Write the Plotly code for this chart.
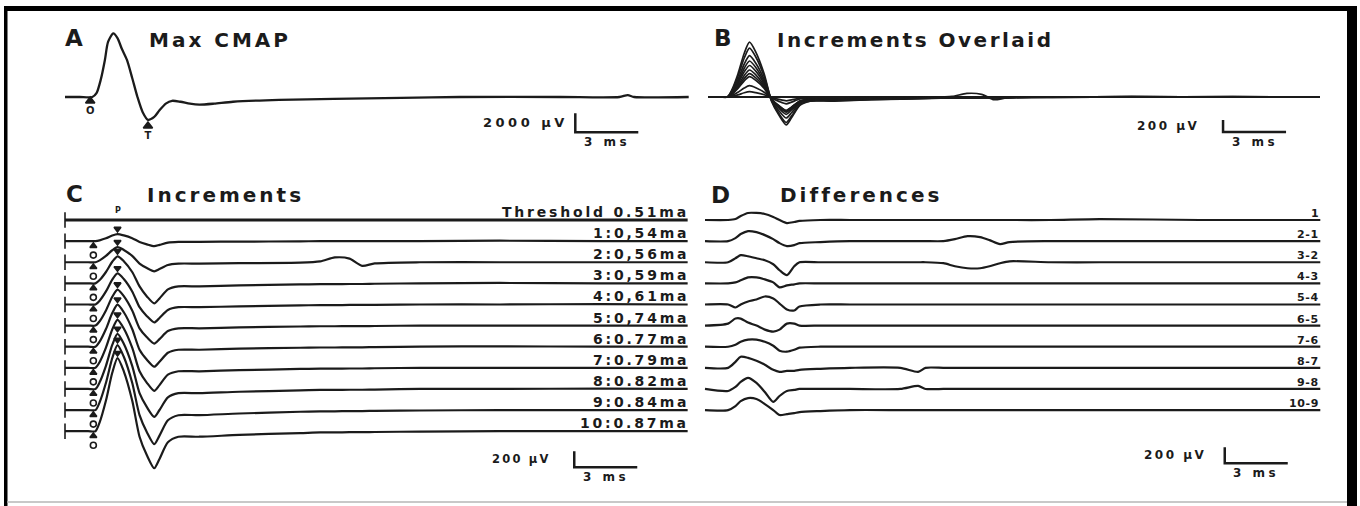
import plotly.graph_objects as go

W, H = 1360, 506
INK = "#1b1b1b"
FONT = "DejaVu Sans"

# ---------------- DATA ----------------
# Panel A - maximal CMAP: time (ms) / amplitude (µV)
A_T = [0, 0.7, 1.3, 1.5, 1.7, 1.9, 2.05, 2.3, 2.5, 2.7, 2.95, 3.2, 3.45, 3.7, 3.95,
       4.25, 4.5, 4.8, 5.1, 5.5, 5.95, 6.4, 7.1, 8.0, 10.2, 12.8, 16.0, 18.8, 23.6,
       26.4, 26.8, 27.1, 29.7]
A_V = [0, 0, 0, 400, 1800, 3900, 5800, 6700, 6200, 5100, 3900, 2000, 0, -1600, -2400,
       -2100, -1400, -700, -400, -500, -700, -800, -700, -500, -300, -200, -100, 0, 0,
       0, 200, 0, 0]
A_ONSET_T = 1.2
A_TROUGH_T = 3.95

# Panels B / C - increments: time (ms) / amplitude (µV)
THRESH_T = [0, 29.65]
THRESH_V = [0, 0]
C_T = [0, 1.1, 1.45, 1.65, 1.95, 2.25, 2.5, 2.8, 3.2, 3.55, 3.9, 4.25, 4.5, 4.9, 5.4,
       6.4, 8.3, 11.2, 12.15, 12.85, 13.55, 14.15, 14.75, 16.9, 20.7, 25.5, 29.65]
INC1 = [0, 0, 0, 10, 35, 70, 88, 72, 37, -10, -40, -63, -47, -19, -9, -9, -6, -3, 0, 0, 0, 0, 0, 0, 5, 0, 0]
INC2 = [0, 0, 0, 23, 79, 150, 188, 154, 79, -17, -73, -113, -85, -34, -17, -17, -11, -6, 10, 60, 45, -45, -15, 0, 0, 0, 0]
INC3 = [0, 0, 0, 41, 142, 270, 338, 277, 142, -38, -163, -250, -188, -75, -38, -38, -25, -13, -10, -10, -8, -8, -5, 0, 5, 0, 0]
INC4 = [0, 0, 0, 47, 163, 310, 388, 318, 163, -34, -146, -225, -169, -68, -34, -34, -23, -11, -8, -8, -6, -6, -5, 0, 0, 5, 0]
INC5 = [0, 0, 0, 54, 189, 360, 450, 369, 189, -34, -146, -225, -169, -68, -34, -34, -23, -11, -8, -8, -6, -6, -5, 0, 0, 0, 0]
INC6 = [0, 0, 0, 63, 221, 420, 525, 431, 221, -38, -163, -250, -188, -75, -38, -38, -25, -13, -10, -10, -8, -8, -5, 0, 5, 0, 0]
INC7 = [0, 0, 0, 72, 252, 480, 600, 492, 252, -43, -187, -288, -216, -86, -43, -43, -29, -14, -10, -10, -8, -8, -5, 0, 0, 0, 0]
INC8 = [0, 0, 0, 83, 289, 550, 688, 564, 289, -53, -228, -350, -263, -105, -53, -53, -35, -18, -12, -12, -10, -10, -8, 0, 0, 5, 0]
INC9 = [0, 0, 0, 98, 341, 650, 813, 667, 341, -64, -276, -425, -319, -128, -64, -64, -43, -21, -15, -15, -12, -12, -10, -5, 0, 0, 0]
INC10 = [0, 0, 0, 110, 383, 730, 913, 749, 383, -69, -301, -463, -347, -139, -69, -69, -46, -23, -15, -15, -12, -12, -10, -5, 0, 0, 0]
C_LABELS = ["Threshold 0.51ma", "1:0,54ma", "2:0,56ma", "3:0,59ma", "4:0,61ma", "5:0,74ma",
            "6:0.77ma", "7:0.79ma", "8:0.82ma", "9:0.84ma", "10:0.87ma"]
C_ONSET_T = 1.35
C_PEAK_T = 2.5

# Panel D - differences: time (ms) / amplitude (µV)
D_T = [0, 1.1, 1.45, 1.7, 2.05, 2.45, 2.85, 3.25, 3.55, 3.9, 4.25, 4.5, 5.5, 6.9, 9.3,
       10.15, 10.5, 11.35, 11.9, 12.5, 13.1, 13.55, 14.05, 14.5, 16.45, 18.8, 23.55, 29.3]
DIF1 = [0, 0, 12, 50, 88, 88, 75, 38, 0, -38, -25, -12, 0, 0, 0, 0, 0, 0, 0, 0, 0, 0, 0, 0, 0, 12, 0, 0]
DIF2 = [0, 0, 38, 88, 125, 112, 75, 25, -25, -62, -50, -25, -12, 0, 0, 0, 0, 0, 25, 62, 50, 12, -38, -12, 0, 0, 0, 0]
DIF3 = [0, 0, 50, 88, 75, 50, 25, -25, -100, -162, -50, 0, 0, 0, 0, 0, 0, -12, -50, -75, -75, -50, -12, 12, 0, 0, 0, 0]
DIF4 = [0, 0, 12, 38, 75, 75, 50, 12, -50, -25, -12, 0, 0, 0, 0, 0, 0, 0, 0, 0, 0, 0, 0, 0, 0, 0, 0, 0]
DIF5 = [0, 0, -38, 0, 38, 62, 100, 75, 12, -62, -75, -25, 0, 0, 0, 0, 0, 0, 0, 0, 0, 0, 0, 0, 0, 0, 0, 0]
DIF6 = [0, 25, 88, 88, 38, 0, -50, -75, -50, 25, 25, 0, 0, 0, 0, 0, 0, 0, 0, 0, 0, 0, 0, 0, 0, 0, 0, 0]
DIF7 = [0, 0, 25, 62, 88, 88, 62, 12, -50, -62, -38, -12, 0, 0, 0, 0, 0, 0, 0, 0, 0, 0, 0, 0, 0, 0, 0, 0]
DIF8 = [0, 0, 75, 138, 125, 88, 38, -25, -50, -38, -38, -25, -12, 0, 0, -50, 0, 0, 0, 0, 0, 0, 0, 0, 0, 0, 0, 0]
DIF9 = [0, -25, 25, 88, 138, 75, -38, -162, -88, -25, -12, 0, 0, 0, 0, 38, 0, 0, 0, 0, 0, 0, 0, 0, 0, 0, 0, 0]
DIF10 = [0, 0, 50, 112, 150, 138, 75, 0, -62, -50, -38, -25, -12, 0, 0, 0, 0, 0, 0, 0, 0, 0, 0, 0, 0, 0, 0, 0]
D_LABELS = ["1", "2-1", "3-2", "4-3", "5-4", "6-5", "7-6", "8-7", "9-8", "10-9"]

INCREMENTS = [INC1, INC2, INC3, INC4, INC5, INC6, INC7, INC8, INC9, INC10]
DIFFS = [DIF1, DIF2, DIF3, DIF4, DIF5, DIF6, DIF7, DIF8, DIF9, DIF10]

# ---------------- LAYOUT GEOMETRY ----------------
# pixel box, x origin (px), px per ms, baseline (px), px per µV
GEOM = {
    1: dict(px=(20, 700), py=(15, 170), t0=65, xs=21.0, base=97, ys=19 / 2000),
    2: dict(px=(708, 1326), py=(15, 170), t0=697, xs=21.0, base=97, ys=0.06),
    3: dict(px=(20, 700), py=(175, 497), t0=65, xs=21.0, base=220, ys=0.08),
    4: dict(px=(690, 1340), py=(175, 497), t0=705, xs=21.0, base=220, ys=0.08),
}
GAP = 264  # µV between stacked sweeps (C and D)
# scale bars: axis index, corner (ms, µV), µV length, label, label x shift, size, spacing
SCALEBARS = [
    (1, 24.3, -3700, 2000, "2000 µV", -5, 13, 3.5),
    (2, 25.05, -585, 200, "200 µV", -22, 12, 2.5),
    (3, 24.25, -3090, 200, "200 µV", -21, 11.5, 2.2),
    (4, 24.75, -3040, 200, "200 µV", -17, 12, 2.5),
]

fig = go.Figure()


def ax(i):
    return ("x" if i == 1 else f"x{i}"), ("y" if i == 1 else f"y{i}")


def line(i, x, y, width=2.0, smooth=True):
    xa, ya = ax(i)
    fig.add_trace(go.Scatter(
        x=x, y=y, xaxis=xa, yaxis=ya, mode="lines",
        line=dict(color=INK, width=width, shape="spline" if smooth else "linear",
                  smoothing=0.7),
        hoverinfo="skip", showlegend=False))


def markers(i, x, y, symbol, size, text=None, open_=False):
    xa, ya = ax(i)
    fig.add_trace(go.Scatter(
        x=x, y=y, xaxis=xa, yaxis=ya, mode="markers+text" if text else "markers",
        text=text, textposition="bottom center",
        textfont=dict(family=FONT, size=10, color=INK, weight="bold"),
        marker=dict(symbol=symbol, size=size,
                    color="white" if open_ else INK,
                    line=dict(color=INK, width=1.6)),
        cliponaxis=False, hoverinfo="skip", showlegend=False))


# ---- Panel A ----
line(1, A_T, A_V, 2.3)
markers(1, [A_ONSET_T], [-420], "triangle-up", 8, ["O"])
markers(1, [A_TROUGH_T], [-3050], "triangle-up", 8, ["T"])

# ---- Panel B (increments overlaid) ----
line(2, THRESH_T, THRESH_V, 2.2)
for v in INCREMENTS:
    line(2, C_T, v, 1.7)

# ---- Panel C (increments stacked) ----
line(3, THRESH_T, THRESH_V, 2.8, smooth=False)
for k, v in enumerate(INCREMENTS, start=1):
    off = -k * GAP
    line(3, C_T, [a + off for a in v], 2.2)
offs = [-k * GAP for k in range(len(C_LABELS))]
markers(3, [0] * len(offs), offs, "line-ns", 11)
inc_offs = offs[1:]
markers(3, [C_ONSET_T] * len(inc_offs), [o - 60 for o in inc_offs], "triangle-up", 6)
markers(3, [C_ONSET_T] * len(inc_offs), [o - 175 for o in inc_offs], "circle", 6, open_=True)
markers(3, [C_PEAK_T] * len(inc_offs),
        [o + max(v) + 65 for o, v in zip(inc_offs, INCREMENTS)], "triangle-down", 6)

# ---- Panel D (differences) ----
for k, v in enumerate(DIFFS):
    off = -k * GAP
    line(4, D_T, [a + off for a in v], 2.2)

# ---- scale bars ----
for i, t, u, L, lab, xsh, fs, spc in SCALEBARS:
    line(i, [t, t, t + 3], [u + L, u, u], 2.5, smooth=False)

# ---------------- axes ----------------
layout_axes = {}
for i, g in GEOM.items():
    x0, x1 = g["px"]
    y0, y1 = g["py"]
    xr = [(x0 - g["t0"]) / g["xs"], (x1 - g["t0"]) / g["xs"]]
    yr = [(g["base"] - y1) / g["ys"], (g["base"] - y0) / g["ys"]]
    sx = "" if i == 1 else str(i)
    layout_axes["xaxis" + sx] = dict(domain=[x0 / W, x1 / W], range=xr, visible=False,
                                     fixedrange=True, anchor="y" + sx)
    layout_axes["yaxis" + sx] = dict(domain=[1 - y1 / H, 1 - y0 / H], range=yr,
                                     visible=False, fixedrange=True, anchor="x" + sx)


def sp(s, spacing):
    return f'<b><span style="letter-spacing:{spacing}px">{s}</span></b>'


ann = []


def paper_text(s, px, py, size, spacing=0, xanchor="left"):
    ann.append(dict(text=sp(s, spacing), x=px / W, y=1 - py / H, xref="paper", yref="paper",
                    xanchor=xanchor, yanchor="middle", showarrow=False,
                    font=dict(family=FONT, size=size, color=INK)))


paper_text("A", 74, 38, 23, 0, "center")
paper_text("Max CMAP", 147, 40, 20, 3.0)
paper_text("B", 723, 38, 23, 0, "center")
paper_text("Increments Overlaid", 775, 40, 20, 2.5)
paper_text("C", 74, 194, 23, 0, "center")
paper_text("Increments", 145, 195, 20, 3.0)
paper_text("D", 720, 195, 23, 0, "center")
paper_text("Differences", 778, 195, 20, 3.0)

# sweep labels
for k, lab in enumerate(C_LABELS):
    ann.append(dict(text=sp(lab, 2.8), x=C_T[-1], y=-k * GAP, xref="x3", yref="y3",
                    xanchor="right", yanchor="bottom", xshift=3, yshift=-2, showarrow=False,
                    font=dict(family=FONT, size=14, color=INK)))
for k, lab in enumerate(D_LABELS):
    ann.append(dict(text=sp(lab, 0.6), x=D_T[-1], y=-k * GAP, xref="x4", yref="y4",
                    xanchor="right", yanchor="bottom", xshift=1, yshift=-2, showarrow=False,
                    font=dict(family=FONT, size=11, color=INK)))
ann.append(dict(text="<b>P</b>", x=C_PEAK_T, y=40, xref="x3", yref="y3", xanchor="center",
                yanchor="bottom", showarrow=False, font=dict(family=FONT, size=8, color=INK)))

# scale bar labels
for i, t, u, L, lab, xsh, fs, spc in SCALEBARS:
    xa, ya = ax(i)
    ann.append(dict(text=sp(lab, spc), x=t, y=u + L / 2, xref=xa, yref=ya, xanchor="right",
                    yanchor="middle", xshift=xsh, showarrow=False,
                    font=dict(family=FONT, size=fs, color=INK)))
    ann.append(dict(text=sp("3 ms", 3.5), x=t + 1.5, y=u, xref=xa, yref=ya, xanchor="center",
                    yanchor="top", yshift=-1, showarrow=False,
                    font=dict(family=FONT, size=12, color=INK)))

# frame
shapes = [
    dict(type="rect", xref="paper", yref="paper", x0=4 / W, x1=1357 / W, y0=1 - 11 / H,
         y1=1 - 6 / H, fillcolor="black", line=dict(width=0)),
    dict(type="rect", xref="paper", yref="paper", x0=4 / W, x1=7.5 / W, y0=0,
         y1=1 - 6 / H, fillcolor="black", line=dict(width=0)),
    dict(type="rect", xref="paper", yref="paper", x0=1347 / W, x1=1357 / W, y0=0,
         y1=1 - 6 / H, fillcolor="black", line=dict(width=0)),
    dict(type="line", xref="paper", yref="paper", x0=7.5 / W, x1=1347 / W, y0=1 - 502 / H,
         y1=1 - 502 / H, line=dict(color="#c8c8c8", width=2)),
]

fig.update_layout(width=W, height=H, margin=dict(l=0, r=0, t=0, b=0),
                  paper_bgcolor="white", plot_bgcolor="white", showlegend=False,
                  annotations=ann, shapes=shapes, **layout_axes)

fig.write_html("out.html")
